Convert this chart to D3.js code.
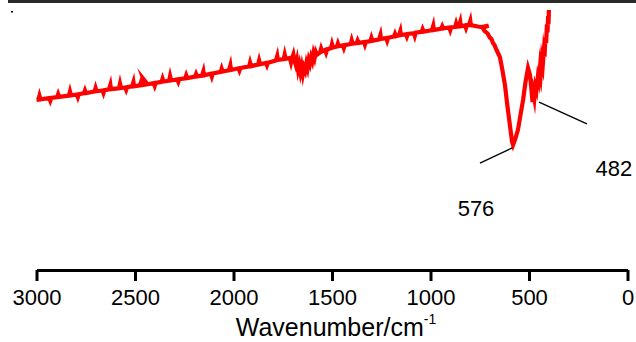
<!DOCTYPE html>
<html>
<head>
<meta charset="utf-8">
<script src="https://cdn.jsdelivr.net/npm/d3@7"></script>
<style>
    html, body { margin: 0; padding: 0; background: #fff; }
    svg { display: block; font-family: "Liberation Sans", Arial, sans-serif; }
</style>
</head>
<body>
<svg id="ftir-plot" width="636" height="342"></svg>
<script>
// --- Data: [wavenumber, transmittance] (noise spikes included) ---
const spectrumPoints = [
    [3000, 63.0],
    [2990, 63.1], [2985, 64.5], [2980, 63.2],
    [2935, 63.7], [2930, 62.7], [2925, 63.7],
    [2895, 64.0], [2890, 65.1], [2885, 64.1],
    [2835, 64.6], [2830, 66.1], [2825, 64.7],
    [2795, 65.0], [2790, 64.0], [2785, 65.1],
    [2759, 65.5], [2754, 66.5], [2749, 65.5],
    [2705, 66.1], [2700, 67.4], [2695, 66.2],
    [2665, 66.5], [2660, 65.5], [2655, 66.6],
    [2632, 66.9], [2625, 68.6], [2622, 67.0],
    [2581, 67.3], [2576, 69.0], [2571, 67.4],
    [2550, 67.6], [2545, 66.7], [2540, 67.7],
    [2515, 68.0], [2508, 69.6], [2505, 68.0],
    [2475, 68.4], [2470, 69.5], [2465, 68.5],
    [2448, 68.7], [2458, 70.8], [2436, 68.8],
    [2405, 69.2], [2400, 68.2], [2395, 69.3],
    [2365, 69.7], [2360, 70.9], [2355, 69.8],
    [2327, 70.1], [2322, 71.8], [2317, 70.2],
    [2285, 70.6], [2280, 69.7], [2275, 70.7],
    [2245, 71.0], [2240, 72.1], [2235, 71.1],
    [2195, 71.6], [2190, 72.6], [2185, 71.7],
    [2160, 72.0], [2153, 73.6], [2150, 72.1],
    [2115, 72.7], [2110, 71.6], [2105, 72.8],
    [2065, 73.4], [2060, 74.6], [2055, 73.5],
    [2023, 74.0], [2016, 75.8], [2013, 74.1],
    [1975, 74.7], [1970, 73.8], [1965, 74.8],
    [1921, 75.4], [1916, 76.8], [1911, 75.5],
    [1875, 76.1], [1870, 77.6], [1865, 76.2],
    [1835, 76.7], [1830, 75.8], [1825, 76.8],
    [1785, 77.6], [1778, 79.3], [1775, 77.8],
    [1745, 78.1], [1740, 79.8], [1735, 78.2],
    [1714, 78.5], [1708, 76.8], [1702, 78.6], [1696, 79.9], [1690, 77.5], [1684, 76.0],
    [1678, 77.8], [1672, 74.2], [1666, 76.0], [1660, 73.2], [1654, 75.4], [1648, 72.6],
    [1642, 75.0], [1636, 73.8], [1630, 76.5], [1624, 74.8], [1618, 77.8], [1612, 76.4],
    [1606, 78.8], [1600, 77.4], [1594, 80.2], [1588, 78.6], [1582, 80.8], [1576, 79.8],
    [1560, 80.6], [1555, 82.0], [1550, 81.0],
    [1535, 81.5], [1530, 80.5], [1525, 81.7],
    [1505, 82.2], [1500, 83.7], [1495, 82.4],
    [1475, 82.8], [1470, 83.9], [1465, 82.9],
    [1445, 83.2], [1440, 82.2], [1435, 83.3],
    [1405, 83.7], [1400, 85.1], [1395, 83.8],
    [1375, 84.0], [1370, 85.0], [1365, 84.1],
    [1338, 84.4], [1333, 83.4], [1328, 84.5],
    [1305, 84.8], [1300, 86.0], [1295, 84.9],
    [1261, 85.4], [1254, 87.1], [1251, 85.6],
    [1225, 85.9], [1220, 84.9], [1215, 86.0],
    [1185, 86.5], [1180, 87.5], [1175, 86.6],
    [1160, 86.9], [1153, 88.5], [1150, 87.0],
    [1125, 87.3], [1120, 86.4], [1115, 87.4],
    [1085, 87.7], [1080, 86.6], [1075, 87.9],
    [1045, 88.2], [1040, 89.2], [1035, 88.3],
    [993, 88.8], [986, 90.5], [983, 88.9],
    [945, 89.4], [940, 90.3], [935, 89.5],
    [905, 89.8], [900, 88.8], [895, 89.9],
    [875, 90.0], [870, 91.3], [865, 90.1],
    [856, 90.2], [849, 91.9], [846, 90.3],
    [825, 90.6], [820, 89.6], [815, 90.7],
    [805, 90.7], [798, 92.3], [795, 90.7],
    [760, 90.2], [740, 90.0], [705, 90.5], [735, 89.6],
    [725, 88.5], [710, 87.6], [700, 86.2], [690, 85.5], [683, 84.1], [675, 83.3],
    [665, 81.5], [655, 80.0], [648, 78.9], [640, 76.0], [635, 74.0], [622, 68.5],
    [610, 61.0], [597, 53.7], [586, 47.5], [581, 46.3], [570, 48.5], [556, 51.9],
    [543, 57.5], [530, 63.0], [518, 69.5], [505, 74.8], [498, 73.0], [495, 72.2],
    [488, 67.0], [482, 62.2], [478, 65.5], [473, 63.5], [468, 68.0], [462, 66.5],
    [455, 71.5], [450, 70.0], [444, 75.2], [440, 73.0], [435, 78.0], [430, 76.0],
    [425, 81.0], [421, 79.0], [417, 86.0], [413, 84.0], [409, 91.0], [406, 88.0],
    [403, 94.0], [401, 91.0], [399, 96.3]
];
const xTicks = [3000, 2500, 2000, 1500, 1000, 500, 0];

// peak labels: leader line from (w1,t1) to (w2,t2), text at (wt,tt)
const peakLabels = ["576", "482"];
const peakLines = [[749, 39.6, 586, 45.2], [449, 62.2, 206, 54.1]];
const peakTextPos = [[769, 20.0], [69, 34.8]];

// --- Setup ---
const W = 636, H = 342;
const margin = { top: 0, right: 8.5, bottom: 72, left: 36.5 };
const width = W - margin.left - margin.right;
const height = H - margin.top - margin.bottom;

const root = d3.select("#ftir-plot");
const svg = root.append("g")
    .attr("transform", `translate(${margin.left},${margin.top})`);

// --- Scales ---
const xScale = d3.scaleLinear().domain([3000, 0]).range([0, width]);
const yScale = d3.scaleLinear().domain([0, 100]).range([height, 0]);

// top frame edge + tiny mark in the corner
root.append("line")
    .attr("x1", 8).attr("x2", W)
    .attr("y1", 1.5).attr("y2", 1.5)
    .attr("stroke", "#2a2a2a")
    .attr("stroke-width", 3);
root.append("rect")
    .attr("x", 11).attr("y", 11).attr("width", 2).attr("height", 1.5)
    .attr("fill", "#000");

// --- Axis ---
const xAxis = svg.append("g")
    .attr("transform", `translate(0,${height})`)
    .call(d3.axisBottom(xScale)
        .tickValues(xTicks)
        .tickFormat(d3.format("d"))
        .tickSize(11)
        .tickSizeOuter(0)
        .tickPadding(8));
xAxis.select(".domain").attr("stroke", "#000").attr("stroke-width", 3);
xAxis.selectAll(".tick line").attr("stroke", "#000").attr("stroke-width", 3);
xAxis.selectAll("text")
    .style("font-size", "22px")
    .style("font-family", "'Liberation Sans', Arial, sans-serif")
    .attr("fill", "#000");

// axis title
const title = root.append("text")
    .attr("x", margin.left + width / 2 + 4)
    .attr("y", 336)
    .attr("text-anchor", "middle")
    .style("font-size", "25px")
    .attr("fill", "#000");
title.append("tspan").text("Wavenumber/cm");
title.append("tspan").text("-1")
    .attr("dy", -12)
    .style("font-size", "14px");

// --- Spectrum ---
const line = d3.line()
    .x(d => xScale(d[0]))
    .y(d => yScale(d[1]));

svg.append("path")
    .datum(spectrumPoints)
    .attr("d", line)
    .attr("fill", "none")
    .attr("stroke", "#ff0000")
    .attr("stroke-width", 4.2)
    .attr("stroke-linejoin", "miter")
    .attr("stroke-miterlimit", 10);

// --- Peak annotations ---
peakLabels.forEach((lab, i) => {
    const [w1, t1, w2, t2] = peakLines[i];
    svg.append("line")
        .attr("x1", xScale(w1)).attr("y1", yScale(t1))
        .attr("x2", xScale(w2)).attr("y2", yScale(t2))
        .attr("stroke", "#000")
        .attr("stroke-width", 1.3);
    svg.append("text")
        .attr("x", xScale(peakTextPos[i][0]))
        .attr("y", yScale(peakTextPos[i][1]))
        .attr("text-anchor", "middle")
        .style("font-size", "22px")
        .attr("fill", "#000")
        .text(lab);
});
</script>
</body>
</html>
